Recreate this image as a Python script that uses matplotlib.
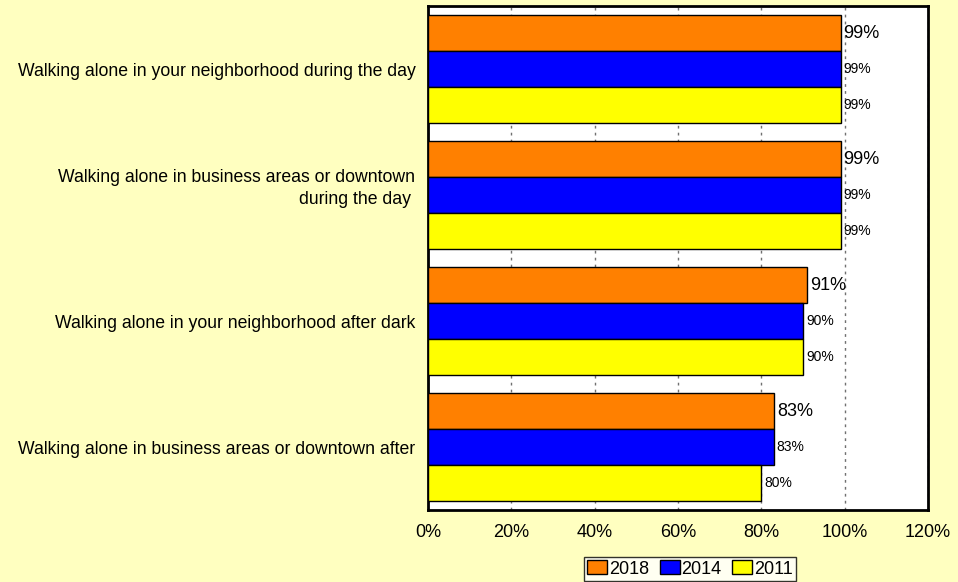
import numpy as np
import matplotlib.pyplot as plt
from matplotlib.patches import Patch

plt.rcParams['font.family'] = ['Liberation Sans', 'DejaVu Sans']

# survey items, top to bottom
categories = [
    "Walking alone in your neighborhood during the day",
    "Walking alone in business areas or downtown\nduring the day \n",
    "Walking alone in your neighborhood after dark",
    "Walking alone in business areas or downtown after",
]
years = ["2018", "2014", "2011"]
pct_2018 = [99, 99, 91, 83]
pct_2014 = [99, 99, 90, 83]
pct_2011 = [99, 99, 90, 80]
colors = ["#FF8000", "#0000FF", "#FFFF00"]
label_sizes = [13, 10, 10]

bg = "#FFFFC0"
fig = plt.figure(figsize=(9.58, 5.82), dpi=100, facecolor=bg)
ax = fig.add_axes([428 / 958, 1 - 510 / 582, 500 / 958, 504 / 582])
ax.set_facecolor("white")

y = np.arange(len(categories))
h = 0.2857
series = [pct_2018, pct_2014, pct_2011]
for i, (vals, c, fs) in enumerate(zip(series, colors, label_sizes)):
    pos = y - h + i * h
    ax.barh(pos, vals, height=h, color=c, edgecolor="black", linewidth=1.0, zorder=3)
    for p, v in zip(pos, vals):
        ax.text(v + 0.7, p, f"{v}%", va="center", ha="left", fontsize=fs, zorder=4)

ax.set_xlim(0, 120)
ax.set_ylim(len(categories) - 0.5, -0.5)
ax.set_xticks(np.arange(0, 121, 20))
ax.set_xticklabels([f"{t}%" for t in range(0, 121, 20)], fontsize=13)
ax.tick_params(axis="x", length=0, pad=10)
ax.set_yticks(y)
ax.set_yticklabels(categories, fontsize=12.7, ha="right")
ax.tick_params(axis="y", length=0, pad=9)
for lab in ax.get_yticklabels():
    lab.set_multialignment("right")
    lab.set_linespacing(1.4)

ax.grid(axis="x", color="#707070", linestyle=(0, (2, 3)), linewidth=1.0, zorder=1)
for s in ax.spines.values():
    s.set_linewidth(2)
    s.set_color("black")

handles = [Patch(facecolor=c, edgecolor="black", label=yr) for c, yr in zip(colors, years)]
fig.legend(handles=handles, loc="center", bbox_to_anchor=(690 / 958, 1 - 569 / 582), ncol=3,
           fontsize=13, frameon=True, fancybox=False, edgecolor="black",
           handlelength=1.1, handleheight=0.8, handletextpad=0.1, columnspacing=0.6,
           borderpad=0.2, borderaxespad=0)

fig.savefig("out.png", dpi=100, facecolor=bg)
